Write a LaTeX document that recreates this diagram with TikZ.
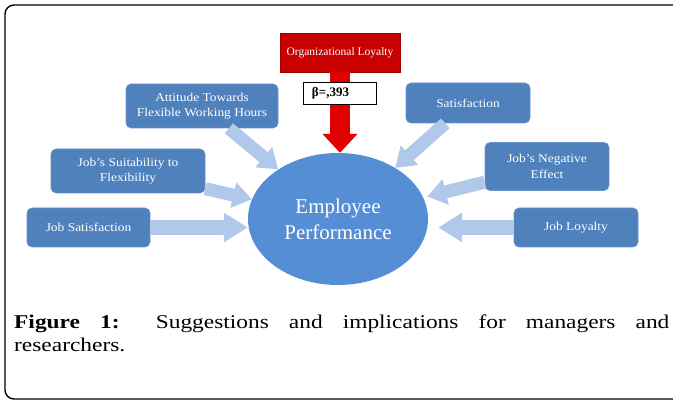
\documentclass[tikz,border=0pt]{standalone}
\usepackage{fontspec}
\setmainfont{Liberation Serif}
\newfontfamily\boxfont[FakeStretch=1.12]{Liberation Serif}
\usetikzlibrary{arrows.meta,shapes.geometric}
\definecolor{boxblue}{HTML}{4F81BD}
\definecolor{ellblue}{HTML}{558ED5}
\definecolor{arrblue}{HTML}{B0C8EA}
\definecolor{olred}{HTML}{C80000}
\definecolor{arrred}{HTML}{E00000}
\tikzset{
  bluebox/.style={rectangle, rounded corners=5pt, fill=boxblue, draw=boxblue!85!white, line width=0.6pt,
    text=white, font=\boxfont\fontsize{12}{15.5}\selectfont, align=center, inner sep=0pt},
  barrow/.style={draw=arrblue, line width=13pt, -{Triangle[length=19pt,width=25pt]}},
  hbarrow/.style={draw=arrblue, line width=15pt, -{Triangle[length=24pt,width=28pt]}},
  redarr/.style={draw=arrred, line width=20pt, -{Triangle[length=19pt,width=34pt]}},
  captext/.style={anchor=base west, inner sep=0pt, font=\fontsize{19.5}{23}\selectfont},
}
\begin{document}
\begin{tikzpicture}[x=1pt,y=-1pt]
\useasboundingbox (0,0) rectangle (673,401);
\clip (0,0) rectangle (673,401);
\fill[white] (0,0) rectangle (673,401);
\draw[line width=1.4pt, rounded corners=9pt] (5,5) rectangle (705,399);

% nodes
\node[ellipse, fill=ellblue, inner sep=0pt, minimum width=180pt, minimum height=132pt,
  text=white, align=center, font=\fontsize{21}{26}\selectfont] (ep) at (338,219) {Employee\\Performance};
\node[rectangle, fill=olred, draw=olred!80!black, line width=0.5pt, minimum width=120pt, minimum height=39pt,
  inner sep=0pt, text=white, font=\fontsize{11.5}{14}\selectfont] (ol) at (340,52.5) {Organizational Loyalty};

\node[bluebox, minimum width=152pt, minimum height=44pt] (att) at (202,106) {Attitude Towards\\Flexible Working Hours};
\node[bluebox, minimum width=124pt, minimum height=40pt] (sat) at (468,103) {Satisfaction};
\node[bluebox, minimum width=154pt, minimum height=44pt] (suit) at (128,171) {Job’s Suitability to\\Flexibility};
\node[bluebox, minimum width=124pt, minimum height=48pt] (neg) at (547,166.5) {Job’s Negative\\Effect};
\node[bluebox, minimum width=123pt, minimum height=39pt] (js) at (88.5,227.5) {Job Satisfaction};
\node[bluebox, minimum width=124pt, minimum height=39pt] (jl) at (576,227.5) {Job Loyalty};

% arrows
\draw[barrow] (att) -- (ep);
\draw[barrow] (sat) -- (ep);
\draw[barrow] (suit) -- (ep);
\draw[barrow, shorten >=4pt] (neg) -- (ep);
\draw[hbarrow] (js.east) -- (js.east -| ep.west);
\draw[hbarrow, shorten >=10pt] (jl.west) -- (jl.west -| ep.east);
\draw[redarr] (ol.south) -- (ol.south |- ep.north);

\node[rectangle, fill=white, draw=black, line width=0.8pt, minimum width=73pt, minimum height=22pt,
  inner sep=0pt, font=\bfseries\fontsize{13}{15}\selectfont] (beta) at (339.5,93.5) {β=,393\hspace*{18pt}};

% caption
\node[captext] (cap1) at (14,328)
  {\scalebox{1.2}[1]{\makebox[546pt][s]{\textbf{Figure 1:} Suggestions and implications for managers and}}};
\node[captext] (cap2) at (14,351) {\scalebox{1.2}[1]{researchers.}};
\end{tikzpicture}
\end{document}
